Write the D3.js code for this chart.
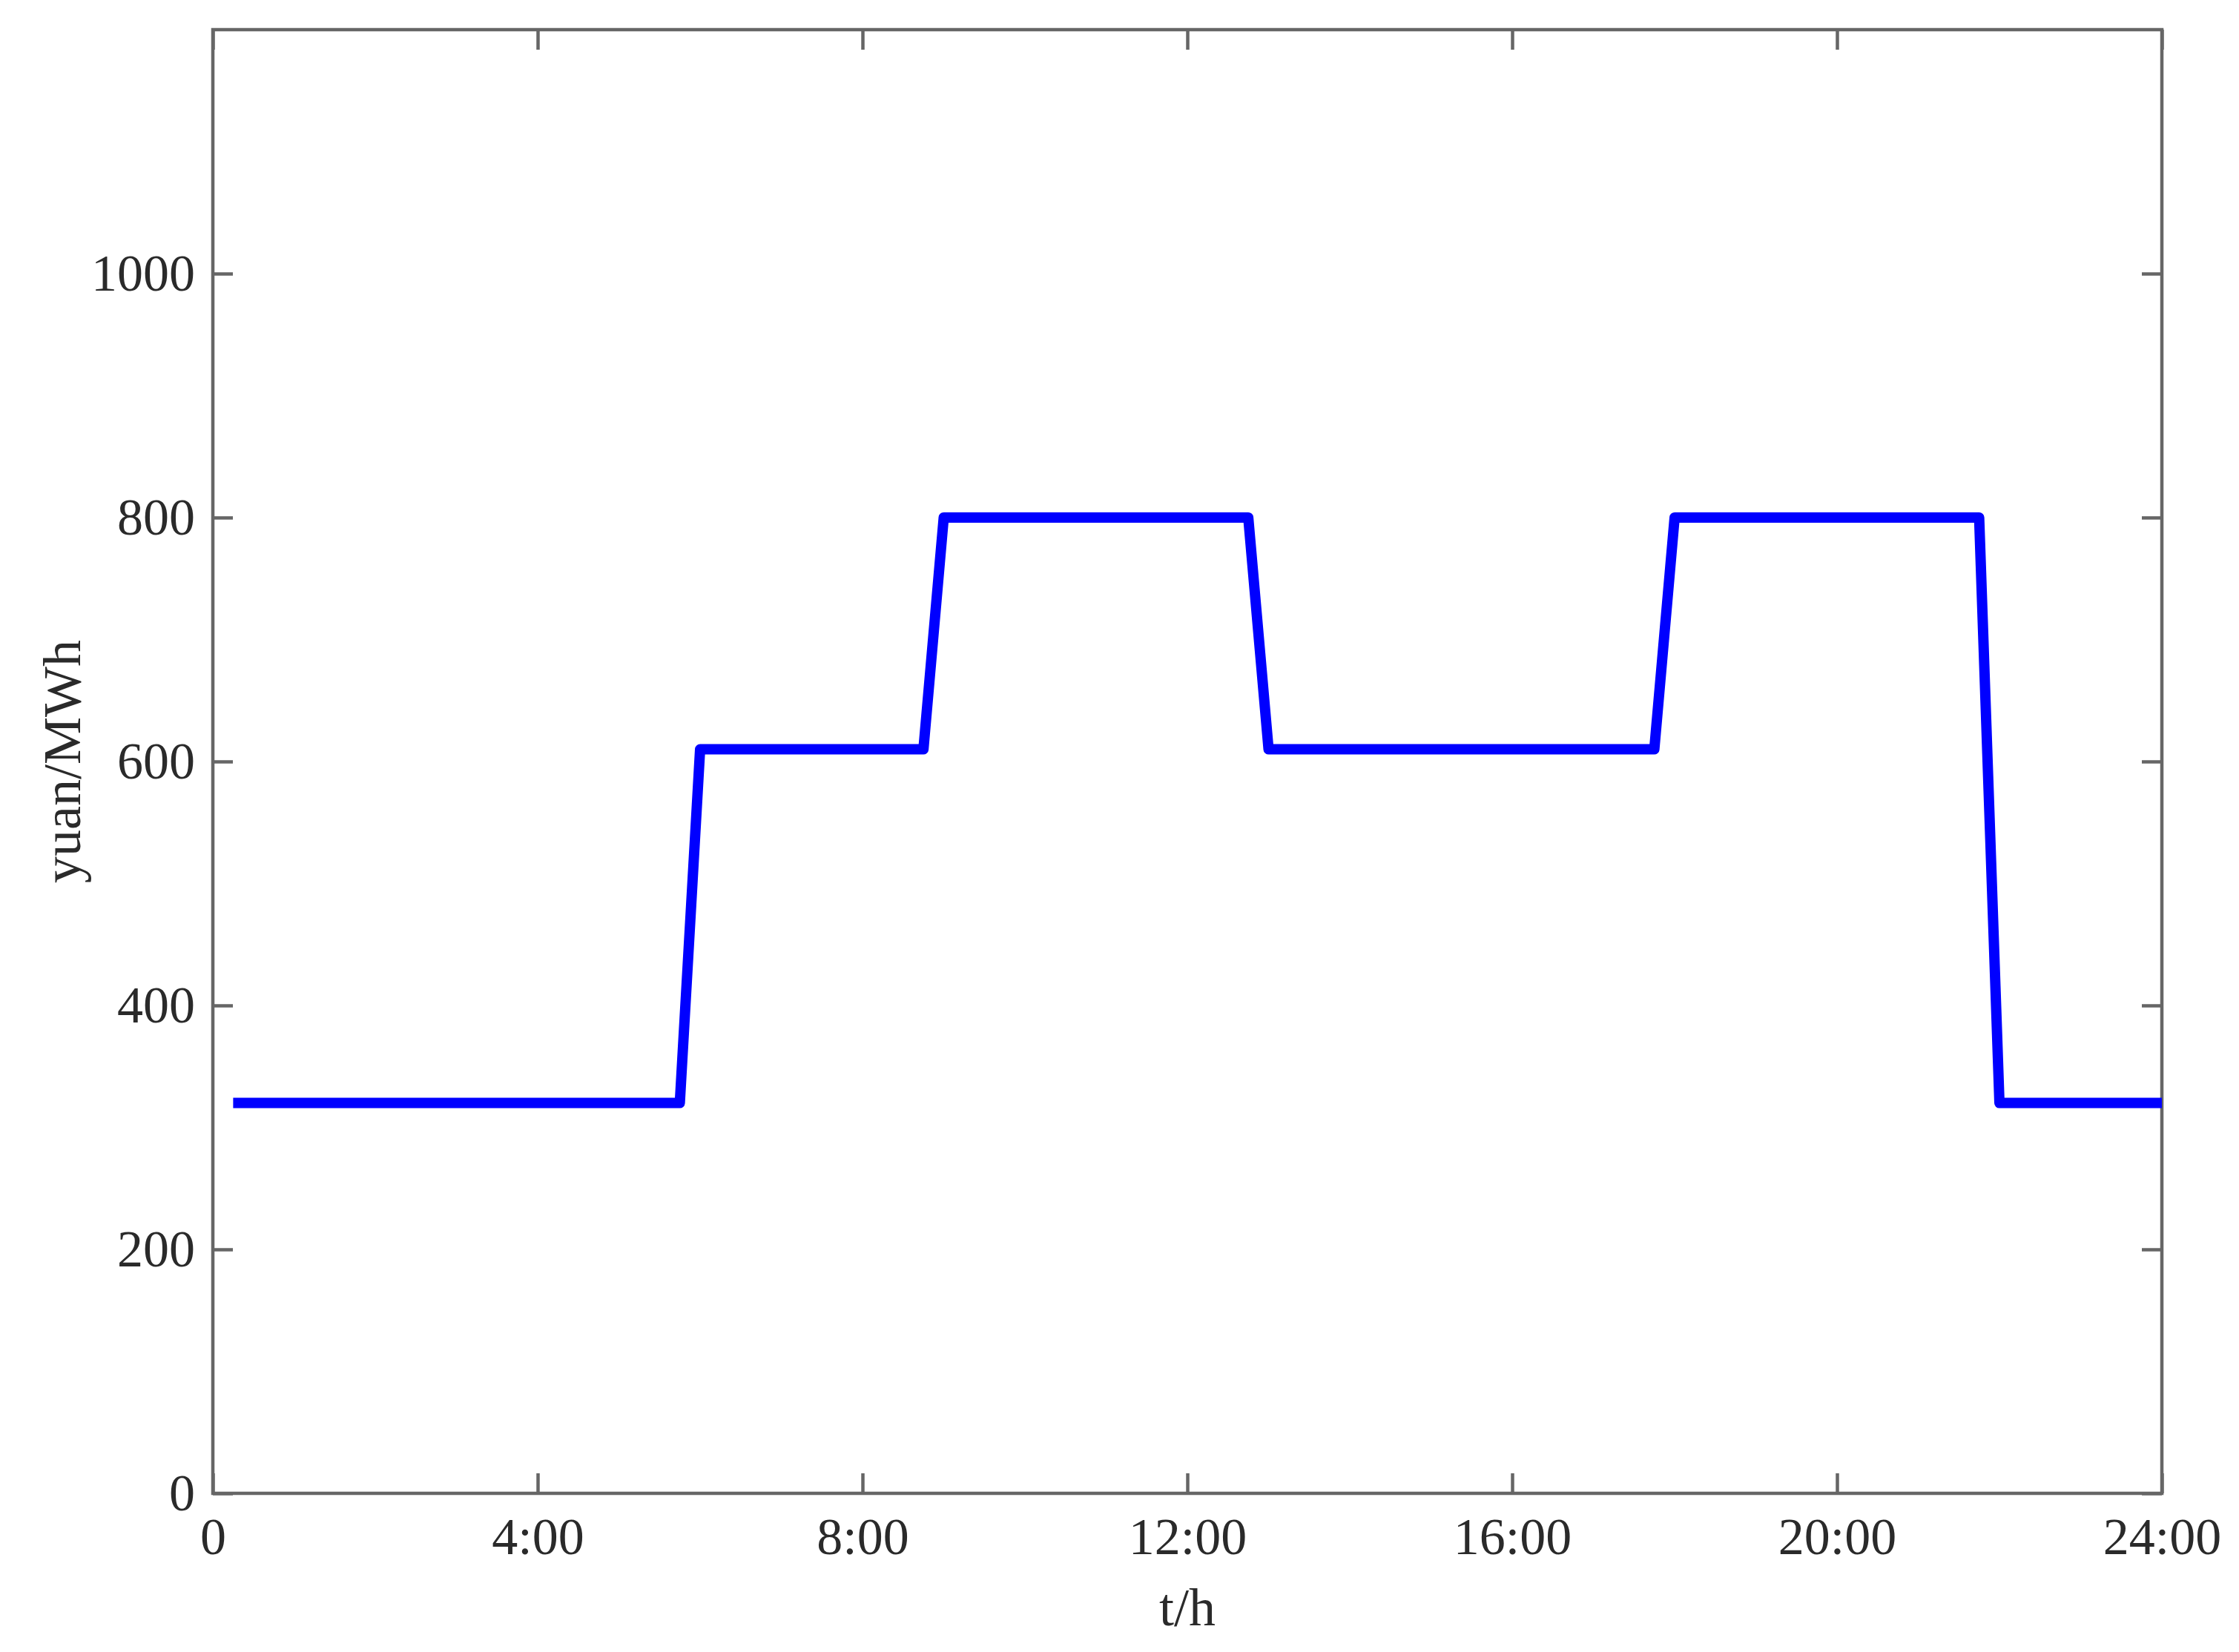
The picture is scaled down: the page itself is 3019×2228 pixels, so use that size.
<!DOCTYPE html>
<html><head><meta charset="utf-8">
<script src="https://cdn.jsdelivr.net/npm/d3@7"></script>
<style>
html,body{margin:0;padding:0;background:#fff;}
svg{display:block;}
.tick text{font-family:"Liberation Serif","Times New Roman",serif;}
</style>
</head><body>
<svg id="chart" width="3019" height="2228"></svg>
<script>
// Data
const hours  = [0.25, 5.75, 6, 8.75, 9, 12.75, 13, 17.75, 18, 21.75, 22, 24];
const prices = [320, 320, 610, 610, 800, 800, 610, 610, 800, 800, 320, 320];
const xTicks = [0, 4, 8, 12, 16, 20, 24];
const xTickLabels = ["0", "4:00", "8:00", "12:00", "16:00", "20:00", "24:00"];
const yTicks = [0, 200, 400, 600, 800, 1000];
const yTickLabels = ["0", "200", "400", "600", "800", "1000"];

const svg = d3.select("#chart");
const L = 287, R = 2915, T = 40, B = 2014;
const x = d3.scaleLinear().domain([0, 24]).range([L, R]);
const y = d3.scaleLinear().domain([0, 1200]).range([B, T]);

const axisColor = "#666";
const textColor = "#2a2a2a";
const fontSize = 70;
const tickLen = 27;

function style(g, showText) {
  g.select(".domain").remove();
  g.selectAll(".tick line").attr("stroke", axisColor).attr("stroke-width", 4.5);
  g.selectAll(".tick text").attr("fill", textColor).style("font-size", fontSize + "px");
  if (!showText) g.selectAll(".tick text").remove();
}

// bottom axis
const gB = svg.append("g").attr("transform", `translate(0,${B})`)
  .call(d3.axisBottom(x).tickValues(xTicks).tickSize(-tickLen).tickPadding(32)
    .tickFormat((d, i) => xTickLabels[i]));
style(gB, true);
// top axis
const gT = svg.append("g").attr("transform", `translate(0,${T})`)
  .call(d3.axisTop(x).tickValues(xTicks).tickSize(-tickLen));
style(gT, false);
// left axis
const gL = svg.append("g").attr("transform", `translate(${L},0)`)
  .call(d3.axisLeft(y).tickValues(yTicks).tickSize(-tickLen).tickPadding(24)
    .tickFormat((d, i) => yTickLabels[i]));
style(gL, true);
// right axis
const gR = svg.append("g").attr("transform", `translate(${R},0)`)
  .call(d3.axisRight(y).tickValues(yTicks).tickSize(-tickLen));
style(gR, false);

// frame
svg.append("rect").attr("x", L).attr("y", T).attr("width", R - L).attr("height", B - T)
  .attr("fill", "none").attr("stroke", axisColor).attr("stroke-width", 4.5);

// line
const pts = hours.map((h, i) => [h, prices[i]]);
svg.append("path").datum(pts)
  .attr("d", d3.line().x(d => x(d[0])).y(d => y(d[1])))
  .attr("fill", "none").attr("stroke", "#0000ff").attr("stroke-width", 14)
  .attr("stroke-linejoin", "round");

// axis labels
svg.append("text").attr("x", (L + R) / 2).attr("y", 2192)
  .attr("text-anchor", "middle").attr("fill", textColor)
  .style("font-family", '"Liberation Serif","Times New Roman",serif')
  .style("font-size", "72px").text("t/h");
svg.append("text").attr("transform", `translate(108,${(T + B) / 2}) rotate(-90)`)
  .attr("text-anchor", "middle").attr("fill", textColor)
  .style("font-family", '"Liberation Serif","Times New Roman",serif')
  .style("font-size", "72px").text("yuan/MWh");
</script>
</body></html>
